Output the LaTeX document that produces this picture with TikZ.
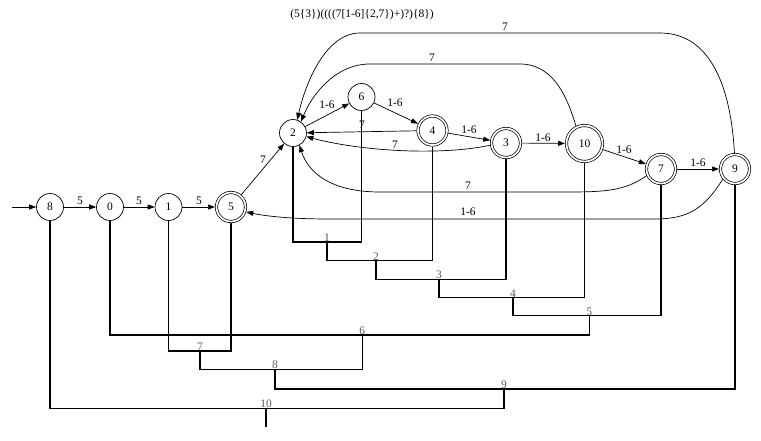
\documentclass[tikz,border=0pt]{standalone}
\usepackage{fontspec}
\setmainfont{Liberation Serif}
\usetikzlibrary{arrows.meta}
\begin{document}
\begin{tikzpicture}[x=1pt,y=-1pt,
  every node/.style={font=\fontsize{11.5}{13}\selectfont},
  st/.style={circle, draw, line width=0.7pt, minimum size=27pt, inner sep=0pt, outer sep=0.3pt},
  acc/.style={circle, draw, double, line width=0.7pt, double distance=1.7pt, minimum size=29pt, inner sep=0pt, outer sep=1.5pt},
  edge/.style={line width=0.7pt, -{Triangle[length=7pt,width=5pt]}},
  lbl/.style={inner sep=0.5pt},
  tree/.style={line width=1.4pt},
  tl/.style={inner sep=0.3pt, anchor=south, text=black!65}
]
\useasboundingbox (0,0) rectangle (761,440);

% title
\node[lbl] (title) at (362,15) {(5\{3\})((((7[1-6]\{2,7\})+)?)\{8\})};

% states
\node[st]  (n8)  at (50,207)    {8};
\node[st]  (n0)  at (110,207)   {0};
\node[st]  (n1)  at (168.5,207) {1};
\node[acc] (n5)  at (231,207)   {5};
\node[st]  (n2)  at (293,133)   {2};
\node[st]  (n6)  at (361.5,97)  {6};
\node[acc] (n4)  at (432.5,130.5) {4};
\node[acc] (n3)  at (506,143)   {3};
\node[acc, minimum size=36pt] (n10) at (584.5,143.5) {10};
\node[acc] (n7)  at (661,169)   {7};
\node[acc] (n9)  at (735,169)   {9};

\coordinate (s) at (12,207);

% transitions
\draw[edge] (s) -- (n8);
\draw[edge] (n8) -- (n0);
\draw[edge] (n0) -- (n1);
\draw[edge] (n1) -- (n5);
\draw[edge] (n5) -- (n2);
\draw[edge] (n2) -- (n6);
\draw[edge] (n6) -- (n4);
\draw[edge] (n4) -- (n3);
\draw[edge] (n3) -- (n10);
\draw[edge] (n10) -- (n7);
\draw[edge] (n7) -- (n9);
\draw[edge] (n4) -- (n2);
\draw[edge] (n3.188) .. controls (440,156) and (360,151) .. (n2.-15);
\draw[edge] (n7.205) .. controls (625,191) and (605,192) .. (565,192) -- (380,192)
   .. controls (330,192) and (308,172) .. (n2.-62);
\draw[edge] (n9.220) .. controls (705,207) and (690,219) .. (655,219) -- (330,219)
   .. controls (290,219) and (265,216) .. (n5.-18);
\draw[edge] (n10.116) .. controls (568,100) and (555,64) .. (520,64) -- (370,64)
   .. controls (335,64) and (312,95) .. (n2.55);
\draw[edge] (n9.92) .. controls (731,90) and (712,33) .. (660,33) -- (360,33)
   .. controls (325,33) and (305,85) .. (n2.72);

% transition labels
\node[lbl] (l80) at (80,201) {5};
\node[lbl] (l01) at (139,201) {5};
\node[lbl] (l15) at (199,201) {5};
\node[lbl] (l52) at (263,160) {7};
\node[lbl] (l26) at (327,105) {1-6};
\node[lbl] (l64) at (395,103) {1-6};
\node[lbl] (l42) at (362,125) {7};
\node[lbl] (l43) at (469,130) {1-6};
\node[lbl] (l32) at (395,145) {7};
\node[lbl] (l310) at (543,138) {1-6};
\node[lbl] (l107) at (624,150) {1-6};
\node[lbl] (l79) at (698,163) {1-6};
\node[lbl] (l72) at (468,186) {7};
\node[lbl] (l95) at (468,212) {1-6};
\node[lbl] (l102) at (432,58) {7};
\node[lbl] (l92) at (505,27) {7};

% tree junctions
\coordinate (j1) at (327,242);
\coordinate (j2) at (376,260.7);
\coordinate (j3) at (439,279.3);
\coordinate (j4) at (513,297.7);
\coordinate (j5) at (589.3,315.7);
\coordinate (j6) at (362.3,335);
\coordinate (j7) at (200,351);
\coordinate (j8) at (275,369.3);
\coordinate (j9) at (504,389);
\coordinate (j10) at (266,408.3);
\coordinate (root) at (266,426.7);

\draw[tree] (n2.south) -- (n2.south |- j1) -- (n6.south |- j1) -- (n6.south);
\draw[tree] (j1) -- (j1 |- j2) -- (n4.south |- j2) -- (n4.south);
\draw[tree] (j2) -- (j2 |- j3) -- (n3.south |- j3) -- (n3.south);
\draw[tree] (j3) -- (j3 |- j4) -- (n10.south |- j4) -- (n10.south);
\draw[tree] (j4) -- (j4 |- j5) -- (n7.south |- j5) -- (n7.south);
\draw[tree] (j5) -- (j5 |- j6) -- (n0.south |- j6) -- (n0.south);
\draw[tree] (n1.south) -- (n1.south |- j7) -- (n5.south |- j7) -- (n5.south);
\draw[tree] (j6) -- (j6 |- j8) -- (j7 |- j8) -- (j7);
\draw[tree] (j8) -- (j8 |- j9) -- (n9.south |- j9) -- (n9.south);
\draw[tree] (j9) -- (j9 |- j10) -- (n8.south |- j10) -- (n8.south);
\draw[tree] (j10) -- (root);

% tree labels
\node[tl] (t1) at (j1) {1};
\node[tl] (t2) at (j2) {2};
\node[tl] (t3) at (j3) {3};
\node[tl] (t4) at (j4) {4};
\node[tl] (t5) at (j5) {5};
\node[tl] (t6) at (j6) {6};
\node[tl] (t7) at (j7) {7};
\node[tl] (t8) at (j8) {8};
\node[tl] (t9) at (j9) {9};
\node[tl] (t10) at (j10) {10};
\end{tikzpicture}
\end{document}
